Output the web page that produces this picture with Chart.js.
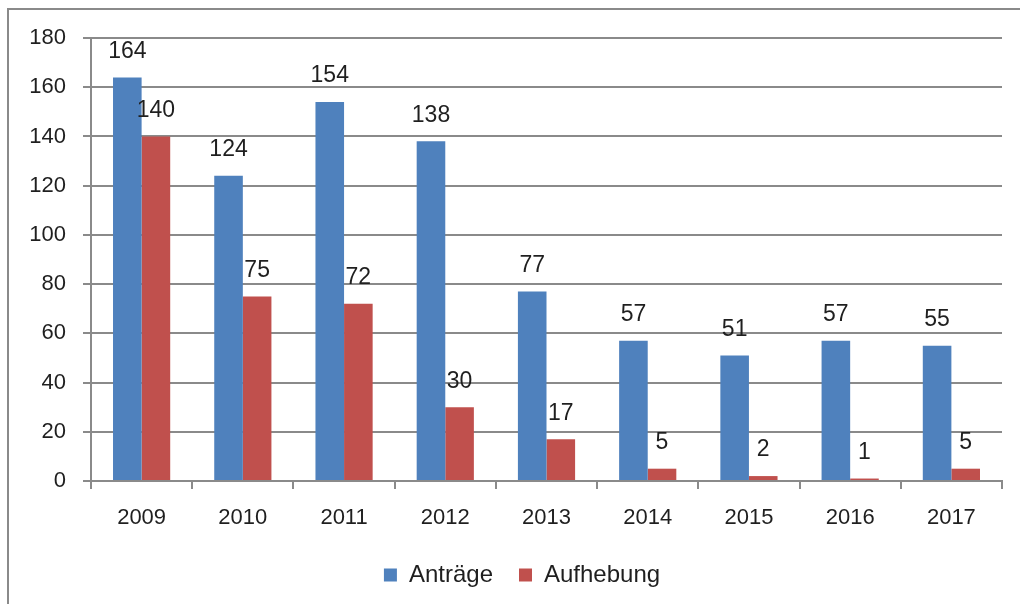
<!DOCTYPE html>
<html><head><meta charset="utf-8">
<script src="https://cdn.jsdelivr.net/npm/chart.js@4/dist/chart.umd.min.js"></script>
<style>html,body{margin:0;padding:0;background:#fff}#wrap{width:1020px;height:604px}</style>
</head><body><div id="wrap"><canvas id="c" width="1020" height="604"></canvas></div>
<script>
const categories = ['2009','2010','2011','2012','2013','2014','2015','2016','2017'];
const antraege = [164,124,154,138,77,57,51,57,55];
const aufhebung = [140,75,72,30,17,5,2,1,5];
const yTicks = [0,20,40,60,80,100,120,140,160,180];
const FONT = "'Liberation Sans', sans-serif";
const TXT = '#1f1f1f';

const borderPlugin = {
  id:'border',
  beforeDraw(chart){
    const c = chart.ctx;
    c.save();
    c.fillStyle='#fff'; c.fillRect(0,0,chart.width,chart.height);
    c.strokeStyle='#8a8a8a'; c.lineWidth=2;
    c.beginPath(); c.moveTo(8,604); c.lineTo(8,9); c.lineTo(1020,9); c.stroke();
    c.restore();
  },
  afterLayout(chart){
    if (chart.legend){ chart.legend.left += 32; }
  }
};
const labelPlugin = {
  id:'labels',
  afterDatasetsDraw(chart){
    const c = chart.ctx;
    c.save();
    c.font = '23px '+FONT; c.fillStyle=TXT; c.textAlign='center'; c.textBaseline='middle';
    chart.data.datasets.forEach((ds,i)=>{
      chart.getDatasetMeta(i).data.forEach((bar,j)=>{
        c.fillText(String(ds.data[j]), bar.x, bar.y-26);
      });
    });
    c.restore();
  }
};

new Chart(document.getElementById('c'),{
  type:'bar',
  data:{labels:categories,datasets:[
    {label:'Anträge',data:antraege,backgroundColor:'#4F81BD'},
    {label:'Aufhebung',data:aufhebung,backgroundColor:'#C0504D'}
  ]},
  options:{
    responsive:false,animation:false,
    layout:{padding:{left:10,top:38,right:18,bottom:7}},
    datasets:{bar:{barPercentage:1,categoryPercentage:0.565}},
    plugins:{
      legend:{position:'bottom',labels:{font:{family:FONT,size:24},color:TXT,boxWidth:13,boxHeight:13,padding:26}},
      tooltip:{enabled:false}
    },
    scales:{
      x:{
        grid:{display:true,drawOnChartArea:false,color:'#8a8a8a',lineWidth:2,tickLength:8,offset:true},
        border:{color:'#8a8a8a',width:2},
        ticks:{font:{family:FONT,size:22},color:TXT,padding:16},
        afterFit(s){s.height=56;}
      },
      y:{
        min:0,max:180,
        afterBuildTicks(s){s.ticks=yTicks.map(v=>({value:v}));},
        grid:{color:'#8a8a8a',lineWidth:2,tickLength:8},
        border:{color:'#8a8a8a',width:2},
        ticks:{font:{family:FONT,size:22},color:TXT,padding:17},
        afterFit(s){s.width=81;}
      }
    }
  },
  plugins:[borderPlugin,labelPlugin]
});
</script></body></html>
